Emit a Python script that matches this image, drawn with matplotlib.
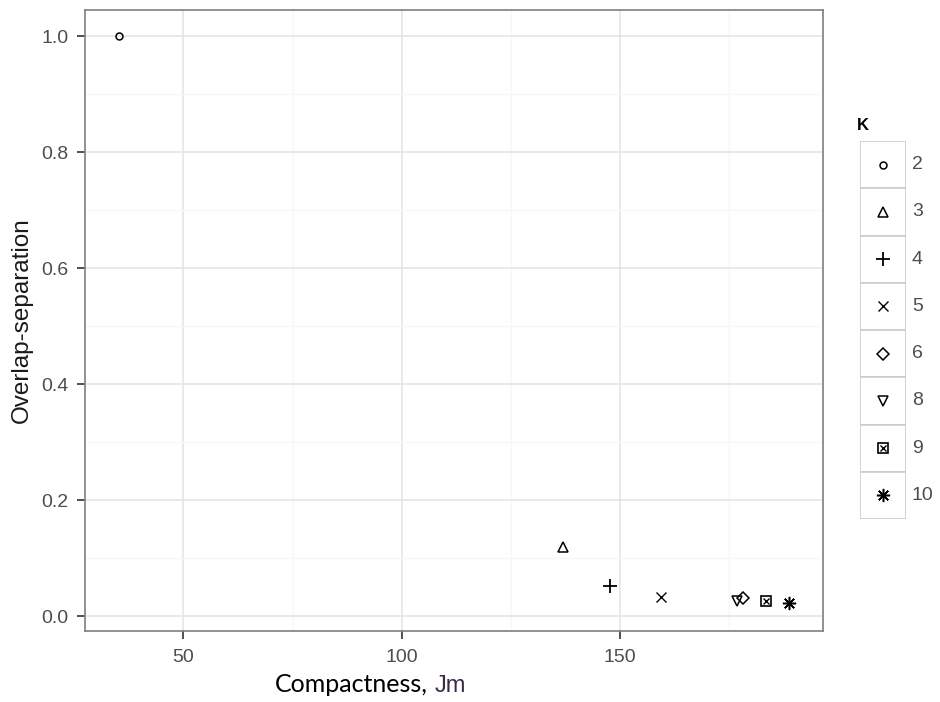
import numpy as np
import matplotlib.pyplot as plt
from matplotlib.patches import Rectangle

plt.rcParams["font.family"] = ["Liberation Sans", "DejaVu Sans"]

# cluster count K and the two validity indices
k_values = ["2", "3", "4", "5", "6", "8", "9", "10"]
compactness = [35.2, 136.8, 147.6, 159.4, 178.1, 176.7, 183.4, 188.7]
overlap_sep = [1.0, 0.120, 0.053, 0.034, 0.031, 0.026, 0.026, 0.024]

# ggplot-like shapes 1..8
shapes = [
    dict(marker="o", ms=5, mfc="none", mew=1.1),
    dict(marker="^", ms=7.5, mfc="none", mew=1.1),
    dict(marker="+", ms=9.5, mew=1.3),
    dict(marker="x", ms=7, mew=1.0),
    dict(marker="D", ms=6.5, mfc="none", mew=1.1),
    dict(marker="v", ms=7.5, mfc="none", mew=1.1),
    dict(marker="s", ms=6.5, mfc="none", mew=1.2),
    dict(marker=(8, 2, 0), ms=9.5, mew=1.1),
]

TICK_COL = "#4d4d4d"
GRID_MAJOR = "#e5e5e5"
GRID_MINOR = "#f7f7f7"
W, H = 940, 702

fig = plt.figure(figsize=(9.4, 7.02), dpi=100)
ax = fig.add_axes([85 / W, 1 - 631 / H, (823 - 85) / W, (631 - 10) / H])

for i in range(len(k_values)):
    ax.plot(compactness[i], overlap_sep[i], ls="none", color="black", zorder=3, **shapes[i])
    if i == 6:
        # square cross
        ax.plot(compactness[i], overlap_sep[i], ls="none", color="black",
                marker="x", ms=4.5, mew=1.0, zorder=3)

ax.set_xlim(27.5, 196.4)
ax.set_ylim(-0.025, 1.045)
ax.set_xticks([50, 100, 150])
ax.set_xticks([75, 125, 175], minor=True)
ax.set_yticks(np.arange(0, 1.01, 0.2))
ax.set_yticks(np.arange(0.1, 1.0, 0.2), minor=True)
ax.set_yticklabels(["0.0", "0.2", "0.4", "0.6", "0.8", "1.0"])

ax.grid(which="major", color=GRID_MAJOR, lw=1.2, zorder=0)
ax.grid(which="minor", color=GRID_MINOR, lw=1.0, zorder=0)
ax.set_axisbelow(True)
for s in ax.spines.values():
    s.set_color("#7f7f7f")
    s.set_linewidth(1.2)
ax.tick_params(which="major", length=6, width=1.2, color="#333333",
               labelsize=14, labelcolor=TICK_COL)
ax.tick_params(axis="y", pad=6)
ax.tick_params(axis="x", pad=7)
ax.tick_params(which="minor", length=0)

fig.text(22 / W, 1 - 320 / H, "Overlap-separation", fontsize=17.5,
         color="#1a1a1a", rotation=90, ha="center", va="center")

# x title: mixed fonts
fig.text(428 / W, 1 - 692 / H, "Compactness,", family="Lato", fontsize=18,
         color="black", ha="right", va="baseline")
fig.text(435 / W, 1 - 692 / H, "Jm", fontsize=17,
         color="#3a2a4a", ha="left", va="baseline")

# legend drawn as keyed boxes
fig.text(857 / W, 1 - 130 / H, "K", fontsize=12,
         weight="bold", color="black", va="baseline")
lax = fig.add_axes([860 / W, 1 - 519 / H, 46 / W, (519 - 141) / H])
lax.set_xlim(0, 1)
lax.set_ylim(len(k_values), 0)
lax.axis("off")
for i, k in enumerate(k_values):
    lax.add_patch(Rectangle((0, i), 1, 1, fc="white", ec="#cccccc", lw=1.2))
    lax.plot(0.5, i + 0.5, ls="none", color="black", **shapes[i])
    if i == 6:
        lax.plot(0.5, i + 0.5, ls="none", color="black", marker="x", ms=4.5, mew=1.0)
    lax.text(1.13, i + 0.5, k, fontsize=14,
             color=TICK_COL, va="center", ha="left", clip_on=False)

fig.savefig("out.png", dpi=100)
